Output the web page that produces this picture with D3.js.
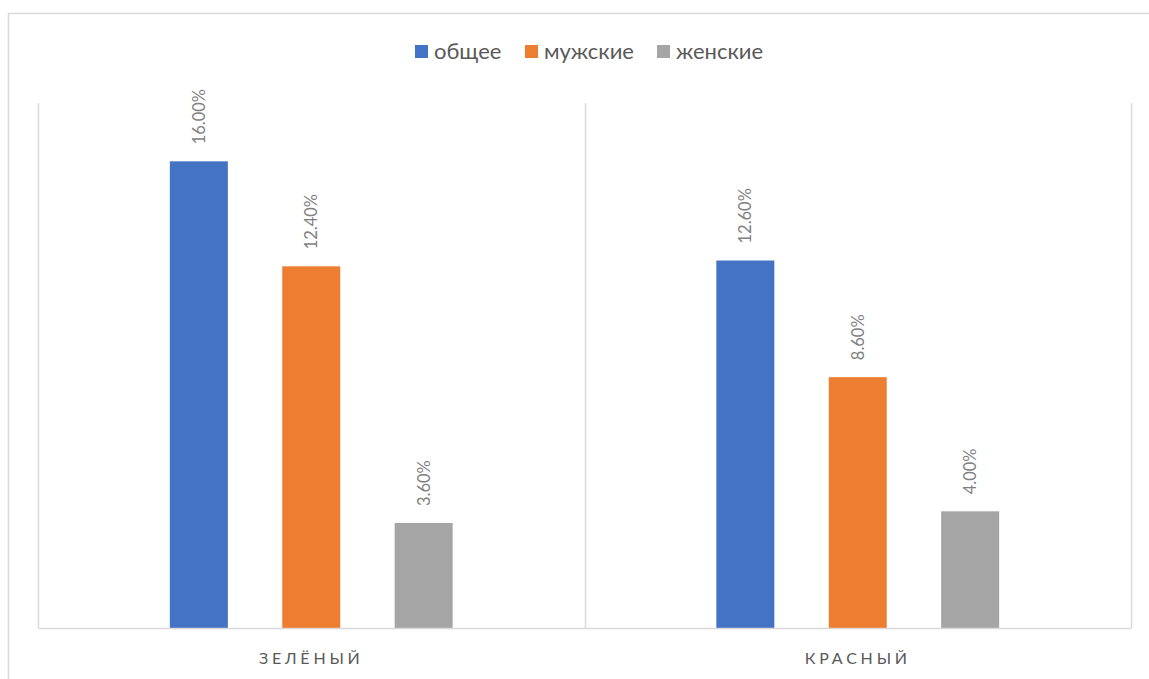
<!DOCTYPE html>
<html>
<head>
<meta charset="utf-8">
<script src="https://cdn.jsdelivr.net/npm/d3@7"></script>
<style>
  html, body { margin: 0; padding: 0; background: #fff; }
  svg { display: block; font-family: "Lato", "Open Sans", sans-serif; }
</style>
</head>
<body>
<svg id="chart" width="1149" height="679"></svg>
<script>
// Categories and series
const categories = ["ЗЕЛЁНЫЙ", "КРАСНЫЙ"];
const seriesNames = ["общее", "мужские", "женские"];
const seriesColors = ["#4472C4", "#ED7D31", "#A5A5A5"];
const valuesTotal = [16.0, 12.6];
const valuesMale = [12.4, 8.6];
const valuesFemale = [3.6, 4.0];
const yDomain = [0, 18];

const seriesValues = [valuesTotal, valuesMale, valuesFemale];
const rows = categories.map((c, i) => ({
  category: c,
  bars: seriesNames.map((s, j) => ({ series: s, color: seriesColors[j], value: seriesValues[j][i] }))
}));

const svg = d3.select("#chart");
const plot = { left: 38, right: 1131, top: 103, bottom: 628 };

// Chart frame
svg.append("rect")
  .attr("x", 8.5).attr("y", 13.5)
  .attr("width", 1200).attr("height", 700)
  .attr("fill", "none").attr("stroke", "#d9d9d9").attr("stroke-width", 1.5);

const x0 = d3.scaleBand().domain(categories).range([plot.left, plot.right]).padding(0);
const x1 = d3.scaleBand().domain(seriesNames).range([0, x0.bandwidth()])
  .paddingInner(0.484).paddingOuter(1.173);
const y = d3.scaleLinear().domain(yDomain).range([plot.bottom, plot.top]);

// Category separators
const seps = [plot.left, ...categories.map(c => x0(c) + x0.bandwidth())];
svg.append("g").selectAll("line").data(seps).join("line")
  .attr("x1", d => Math.round(d) + 0.5).attr("x2", d => Math.round(d) + 0.5)
  .attr("y1", plot.top).attr("y2", plot.bottom)
  .attr("stroke", "#d9d9d9").attr("stroke-width", 1.5);

// Bars
const groups = svg.append("g").selectAll("g").data(rows).join("g")
  .attr("transform", d => `translate(${x0(d.category)},0)`);

groups.selectAll("rect").data(d => d.bars).join("rect")
  .attr("x", d => x1(d.series))
  .attr("y", d => y(d.value))
  .attr("width", x1.bandwidth())
  .attr("height", d => y(0) - y(d.value))
  .attr("fill", d => d.color);

// Value labels (rotated)
groups.selectAll("text").data(d => d.bars).join("text")
  .attr("transform", d => `translate(${x1(d.series) + x1.bandwidth() / 2 + 6},${y(d.value) - 17}) rotate(-90)`)
  .attr("text-anchor", "start")
  .attr("font-size", 16.5)
  .attr("fill", "#7f7f7f")
  .text(d => d.value.toFixed(2) + "%");

// Category axis
const xAxis = svg.append("g")
  .attr("transform", `translate(0,${plot.bottom})`)
  .call(d3.axisBottom(x0).tickSize(0).tickPadding(25));
xAxis.select(".domain").attr("stroke", "#d9d9d9").attr("stroke-width", 1.5);
xAxis.selectAll("text")
  .attr("font-size", 16)
  .attr("font-family", "Lato, sans-serif")
  .attr("fill", "#595959")
  .attr("letter-spacing", "3.8px");

// Legend
const legendX = [415, 525, 657];
const legend = svg.append("g").selectAll("g").data(seriesNames).join("g")
  .attr("transform", (d, i) => `translate(${legendX[i]},45)`);
legend.append("rect").attr("width", 13).attr("height", 13)
  .attr("fill", (d, i) => seriesColors[i]);
legend.append("text").attr("x", 19).attr("y", 13.5)
  .attr("font-size", 22).attr("fill", "#595959")
  .text(d => d);
</script>
</body>
</html>
